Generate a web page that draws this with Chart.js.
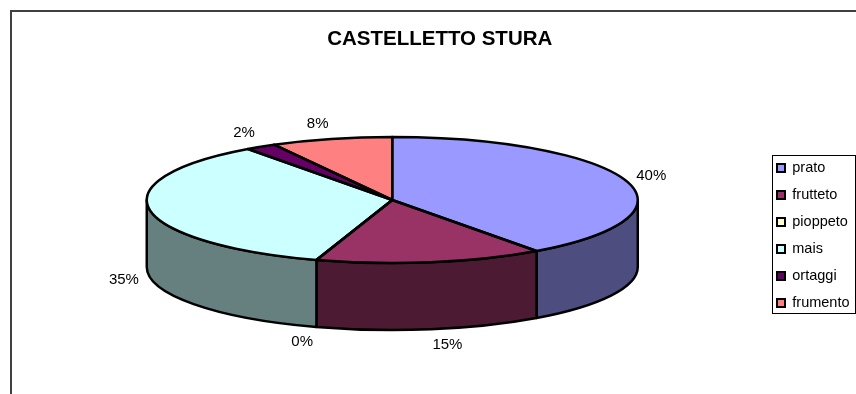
<!DOCTYPE html>
<html>
<head>
<meta charset="utf-8">
<title>Castelletto Stura</title>
<script src="https://cdn.jsdelivr.net/npm/chart.js@4.4.1/dist/chart.umd.min.js"></script>
<style>
  html, body { margin: 0; padding: 0; background: #fff; overflow: hidden; }
  #landUse { display: block; }
</style>
</head>
<body>
<canvas id="landUse" width="884" height="420"></canvas>
<script>
// land use shares, percent of total
const crops = ["prato", "frutteto", "pioppeto", "mais", "ortaggi", "frumento"];
const shares = [40, 15, 0, 35, 2, 8];

const topColors = ["#9999ff", "#993366", "#ffffcc", "#ccffff", "#660066", "#ff8080"];
const sideColors = ["#4d4d80", "#4d1a33", "#808066", "#668080", "#330033", "#804040"];

const fontFamily = 'Arial, "Liberation Sans", sans-serif';

// turns the flat pie into a tilted disc: side walls, squashed top, outlines, labels
const pie3d = {
  id: "pie3d",
  shape(chart, opts) {
    const arcs = chart.getDatasetMeta(0).data;
    const r = arcs[0].outerRadius;
    const rx = r * opts.stretch;
    return { arcs, cx: arcs[0].x, cy: arcs[0].y, r, rx, ry: rx * opts.tilt, depth: opts.depth };
  },
  beforeDatasetsDraw(chart, args, opts) {
    const ctx = chart.ctx;
    const p = this.shape(chart, opts);

    ctx.save();
    ctx.lineWidth = opts.lineWidth;
    ctx.strokeStyle = opts.lineColor;
    ctx.lineJoin = "round";
    p.arcs.forEach((arc, i) => {
      // only the front half of the wall can be seen
      const s = Math.max(arc.startAngle, 0);
      const e = Math.min(arc.endAngle, Math.PI);
      if (e <= s) return;
      ctx.beginPath();
      ctx.ellipse(p.cx, p.cy, p.rx, p.ry, 0, s, e);
      ctx.lineTo(p.cx + p.rx * Math.cos(e), p.cy + p.ry * Math.sin(e) + p.depth);
      ctx.ellipse(p.cx, p.cy + p.depth, p.rx, p.ry, 0, e, s, true);
      ctx.closePath();
      ctx.fillStyle = sideColors[i];
      ctx.fill();
      ctx.stroke();
    });
    ctx.restore();

    // the pie itself is drawn squashed into the top face
    ctx.save();
    ctx.translate(p.cx, p.cy);
    ctx.scale(p.rx / p.r, p.ry / p.r);
    ctx.translate(-p.cx, -p.cy);
  },
  afterDatasetsDraw(chart, args, opts) {
    const ctx = chart.ctx;
    ctx.restore();
    const p = this.shape(chart, opts);
    const values = chart.data.datasets[0].data;

    ctx.save();
    ctx.lineWidth = opts.lineWidth;
    ctx.strokeStyle = opts.lineColor;
    ctx.lineJoin = "round";
    p.arcs.forEach((arc) => {
      ctx.beginPath();
      ctx.moveTo(p.cx, p.cy);
      ctx.ellipse(p.cx, p.cy, p.rx, p.ry, 0, arc.startAngle, arc.endAngle);
      ctx.closePath();
      ctx.stroke();
    });

    ctx.font = opts.labelSize + "px " + fontFamily;
    ctx.fillStyle = "#000";
    ctx.textAlign = "center";
    ctx.textBaseline = "middle";
    p.arcs.forEach((arc, i) => {
      const mid = (arc.startAngle + arc.endAngle) / 2;
      const c = Math.cos(mid);
      const s = Math.sin(mid);
      const text = values[i] + "%";
      const w = ctx.measureText(text).width;
      const drop = s > 0 ? p.depth : 0;
      const x = p.cx + p.rx * c + Math.sign(c) * (w / 2 + opts.labelGap * Math.abs(c));
      const y = p.cy + (p.ry + opts.labelLift) * s + drop;
      ctx.fillText(text, x, y);
    });
    ctx.restore();
  },
  afterDraw(chart) {
    const ctx = chart.ctx;
    ctx.save();

    // chart area frame
    ctx.strokeStyle = "#404040";
    ctx.lineWidth = 2;
    ctx.beginPath();
    ctx.moveTo(11, chart.height);
    ctx.lineTo(11, 11);
    ctx.lineTo(chart.width, 11);
    ctx.stroke();

    // box round the legend
    const boxes = chart.legend.legendHitBoxes;
    const left = Math.min(...boxes.map((b) => b.left)) - 5.5;
    const right = Math.max(...boxes.map((b) => b.left + b.width)) + 5.5;
    const top = boxes[0].top - 6;
    const last = boxes[boxes.length - 1];
    const bottom = last.top + last.height + 2.5;
    ctx.strokeStyle = "#000";
    ctx.lineWidth = 1;
    ctx.strokeRect(Math.round(left) + 0.5, Math.round(top) + 0.5, Math.round(right - left), Math.round(bottom - top));
    ctx.restore();
  },
};

const defaultLabels = Chart.overrides.doughnut.plugins.legend.labels.generateLabels;

new Chart(document.getElementById("landUse"), {
  type: "pie",
  plugins: [pie3d],
  data: {
    labels: crops,
    datasets: [
      {
        data: shares,
        backgroundColor: topColors,
        borderWidth: 0,
        hoverOffset: 0,
      },
    ],
  },
  options: {
    responsive: false,
    devicePixelRatio: 1,
    animation: false,
    events: [],
    color: "#000",
    layout: {
      padding: { left: 20, right: 24.5, top: 0, bottom: 97.25 },
    },
    plugins: {
      tooltip: { enabled: false },
      title: {
        display: true,
        text: "CASTELLETTO STURA",
        color: "#000",
        font: { family: fontFamily, size: 20.5, weight: "bold" },
        padding: { top: 27.2, bottom: 25.45 },
      },
      legend: {
        position: "right",
        align: "end",
        fullSize: false,
        labels: {
          color: "#000",
          font: { family: fontFamily, size: 14.5 },
          boxWidth: 8,
          boxHeight: 8,
          padding: 12.5,
          generateLabels(chart) {
            const items = defaultLabels(chart);
            items.forEach((item) => {
              item.strokeStyle = "#000";
              item.lineWidth = 2;
            });
            return items;
          },
        },
      },
      pie3d: {
        stretch: 2.0,
        tilt: 0.257,
        depth: 67,
        lineWidth: 2.5,
        lineColor: "#000",
        labelSize: 15,
        labelGap: 11,
        labelLift: 16,
      },
    },
  },
});
</script>
</body>
</html>
